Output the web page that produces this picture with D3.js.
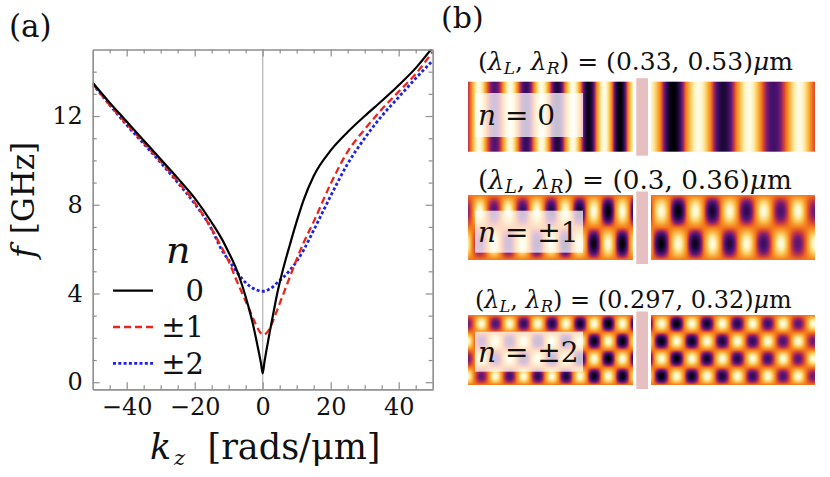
<!DOCTYPE html>
<html>
<head>
<meta charset="utf-8">
<script src="https://cdn.jsdelivr.net/npm/d3@7"></script>
<style>
body { margin: 0; background: #fff; }
text { font-family: "DejaVu Serif", serif; fill: #111; }
</style>
</head>
<body>
<div id="chart"></div>
<script>
// panel (a): dispersion f(kz) for the three modes
var kz = [-50, -45, -40, -35, -30, -25, -20, -15, -12, -10, -8, -6, -4, -3, -2, -1, -0.5, 0,
          0.5, 1, 2, 3, 4, 6, 8, 10, 12, 15, 20, 25, 30, 35, 40, 45, 50];
var fMode0 = [13.5, 12.6, 11.75, 10.9, 10.05, 9.2, 8.3, 7.2, 6.45, 5.85, 5.2, 4.35, 3.3, 2.7, 2.0, 1.25, 0.85, 0.4,
              0.9, 1.35, 2.2, 3.0, 3.8, 5.1, 6.2, 7.25, 8.2, 9.3, 10.45, 11.28, 12.0, 12.68, 13.39, 14.16, 15.1];
var fMode1 = [13.45, 12.5, 11.65, 10.8, 9.95, 9.05, 8.1, 6.9, 6.05, 5.45, 4.7, 4.0, 3.3, 2.95, 2.6, 2.3, 2.2, 2.15,
              2.15, 2.2, 2.4, 2.75, 3.15, 3.95, 4.75, 5.55, 6.28, 7.24, 8.95, 10.4, 11.4, 12.3, 13.1, 13.9, 14.9];
var fMode2 = [13.45, 12.5, 11.6, 10.75, 9.9, 9.0, 8.05, 6.9, 5.95, 5.5, 5.05, 4.65, 4.35, 4.25, 4.17, 4.12, 4.1, 4.1,
              4.1, 4.12, 4.2, 4.3, 4.45, 4.72, 5.05, 5.45, 5.95, 6.85, 8.4, 9.85, 11.0, 12.0, 12.85, 13.7, 14.5];
var legendLabels = ['0', '\u00b11', '\u00b12'];
var xTicks = [-40, -20, 0, 20, 40];
var yTicks = [0, 4, 8, 12];

// panel (b): mode patterns, wavelengths in um
var modeN = [0, 1, 2];
var modeLabels = ['0', '\u00b11', '\u00b12'];
var lambdaL = [0.33, 0.3, 0.297];
var lambdaR = [0.53, 0.36, 0.32];
var lambdaText = [['0.33', '0.53'], ['0.3', '0.36'], ['0.297', '0.32']];
// position (um from the junction) of a dark stripe / top-row dark spot
var darkL = [-0.232, -0.358, -0.355];
var darkR = [0.33, 0.382, 0.365];

var
W = 830,
H = 477;
var svg = d3
	.select('#chart')
	.append('svg')
	.attr('width', W)
	.attr('height', H)
	;

// ---------- panel (a) ----------
var
P_LEFT = 92.7, P_RIGHT = 432.7,
P_TOP = 49.5, P_BOTTOM = 389.3,
FRAME = '#8e8e8e';

var x = d3.scaleLinear().domain([-50, 50]).range([P_LEFT, P_RIGHT]);
var y = d3.scaleLinear().domain([-0.32, 15]).range([P_BOTTOM, P_TOP]);

svg.append('clipPath')
	.attr('id', 'plotClip')
	.append('rect')
	.attr('x', P_LEFT)
	.attr('y', P_TOP)
	.attr('width', P_RIGHT - P_LEFT)
	.attr('height', P_BOTTOM - P_TOP);

// line at kz = 0
svg.append('line')
	.attr('x1', x(0)).attr('x2', x(0))
	.attr('y1', P_TOP).attr('y2', P_BOTTOM)
	.attr('stroke', '#b8b8b8')
	.attr('stroke-width', 1.3);

var series = [
	{ f: fMode0, color: '#000000', dash: null, width: 2.2 },
	{ f: fMode1, color: '#e8261c', dash: '7,4', width: 2.3 },
	{ f: fMode2, color: '#1f22e6', dash: '3,2.3', width: 2.8 }
];

var line = d3.line()
	.x(function(d, i) { return x(kz[i]); })
	.y(function(d) { return y(d); })
	.curve(d3.curveMonotoneX);

svg.append('g')
	.attr('clip-path', 'url(#plotClip)')
	.selectAll('path')
	.data(series.slice().reverse())
	.enter()
	.append('path')
	.attr('d', function(d) { return line(d.f); })
	.attr('fill', 'none')
	.attr('stroke', function(d) { return d.color; })
	.attr('stroke-width', function(d) { return d.width; })
	.attr('stroke-dasharray', function(d) { return d.dash; })
	;

// frame ticks, pointing inwards
var xMinor = d3.range(-45, 50, 5).filter(function(v) { return xTicks.indexOf(v) < 0; });
var yMinor = d3.range(0, 15, 1).filter(function(v) { return yTicks.indexOf(v) < 0; });

function styleAxis(g) {
	g.selectAll('path, line').attr('stroke', FRAME).attr('stroke-width', 1.2);
	g.selectAll('text')
		.style('font-family', '"DejaVu Serif", serif')
		.style('font-size', '24px')
		.attr('fill', '#111');
}

svg.append('g').attr('transform', 'translate(0,' + P_BOTTOM + ')')
	.call(d3.axisBottom(x).tickValues(xTicks).tickSize(-7).tickSizeOuter(0).tickPadding(9))
	.call(styleAxis);
svg.append('g').attr('transform', 'translate(0,' + P_BOTTOM + ')')
	.call(d3.axisBottom(x).tickValues(xMinor).tickSize(-4).tickSizeOuter(0).tickFormat(''))
	.call(styleAxis);
svg.append('g').attr('transform', 'translate(0,' + P_TOP + ')')
	.call(d3.axisTop(x).tickValues(xTicks).tickSize(-7).tickSizeOuter(0).tickFormat(''))
	.call(styleAxis);
svg.append('g').attr('transform', 'translate(0,' + P_TOP + ')')
	.call(d3.axisTop(x).tickValues(xMinor).tickSize(-4).tickSizeOuter(0).tickFormat(''))
	.call(styleAxis);
svg.append('g').attr('transform', 'translate(' + P_LEFT + ',0)')
	.call(d3.axisLeft(y).tickValues(yTicks).tickSize(-7).tickSizeOuter(0).tickPadding(10))
	.call(styleAxis);
svg.append('g').attr('transform', 'translate(' + P_LEFT + ',0)')
	.call(d3.axisLeft(y).tickValues(yMinor).tickSize(-4).tickSizeOuter(0).tickFormat(''))
	.call(styleAxis);
svg.append('g').attr('transform', 'translate(' + P_RIGHT + ',0)')
	.call(d3.axisRight(y).tickValues(yTicks).tickSize(-7).tickSizeOuter(0).tickFormat(''))
	.call(styleAxis);
svg.append('g').attr('transform', 'translate(' + P_RIGHT + ',0)')
	.call(d3.axisRight(y).tickValues(yMinor).tickSize(-4).tickSizeOuter(0).tickFormat(''))
	.call(styleAxis);

// axis titles
svg.append('text')
	.attr('transform', 'translate(34,252) rotate(-90)')
	.attr('text-anchor', 'middle')
	.style('font-size', '32px')
	.style('font-style', 'italic')
	.text('f');
svg.append('text')
	.attr('transform', 'translate(34,188) rotate(-90)')
	.attr('text-anchor', 'middle')
	.style('font-size', '31px')
	.text('[GHz]');

svg.append('text')
	.attr('x', 150).attr('y', 459)
	.style('font-size', '35px')
	.style('font-style', 'italic')
	.text('k');
svg.append('text')
	.attr('x', 174).attr('y', 465)
	.style('font-size', '21px')
	.style('font-style', 'italic')
	.text('z');
svg.append('text')
	.attr('x', 294).attr('y', 459)
	.attr('text-anchor', 'middle')
	.style('font-size', '35px')
	.text('[rads/\u03bcm]');

// legend
var
LEG_X = 113, LEG_LEN = 40,
LEG_Y = 290.7, LEG_STEP = 36.3;
svg.append('text')
	.attr('x', 166).attr('y', 263)
	.style('font-size', '38px')
	.style('font-style', 'italic')
	.text('n');
var legend = svg.append('g')
	.selectAll('g')
	.data(series)
	.enter()
	.append('g')
	.attr('transform', function(d, i) { return 'translate(' + LEG_X + ',' + (LEG_Y + i * LEG_STEP) + ')'; })
	;
legend.append('line')
	.attr('x1', 0).attr('x2', LEG_LEN)
	.attr('stroke', function(d) { return d.color; })
	.attr('stroke-width', function(d) { return d.width; })
	.attr('stroke-dasharray', function(d) { return d.dash; });
legend.append('text')
	.attr('x', 91).attr('dy', '0.36em')
	.attr('text-anchor', 'end')
	.style('font-size', '29px')
	.text(function(d, i) { return legendLabels[i]; });

svg.append('text')
	.attr('x', 9).attr('y', 37)
	.style('font-size', '31px')
	.text('(a)');

// ---------- panel (b) ----------
svg.append('text')
	.attr('x', 441).attr('y', 28)
	.style('font-size', '30px')
	.text('(b)');

var
IMG_X0 = 468, IMG_X1 = 815,
JUNCTION = 642,
PX_PER_UM = 95,
GAP_UM = 0.097;
var imgTop = [81.7, 195, 315];
var imgH = [70, 65, 70];
var titleX = [478, 478, 475];
var titleW = [315, 314, 317];
var titleY = [70, 189, 308];
var boxY = [93, 210.7, 331.7];
var boxH = [44, 42, 40];

var xMu = d3.scaleLinear()
	.domain([(IMG_X0 - JUNCTION) / PX_PER_UM, (IMG_X1 - JUNCTION) / PX_PER_UM])
	.range([IMG_X0, IMG_X1]);

// colour map, field value -1..1
var fieldColor = d3.scaleLinear()
	.domain([-1, -0.8, -0.6, -0.4, -0.2, 0, 0.3, 0.6, 0.85, 1])
	.range(['#000004', '#1e0838', '#42106a', '#7a1d72', '#cf3d3c', '#f4791c', '#f9a535', '#fcd069', '#feefb0', '#fffbe4'])
	.clamp(true);
var LUT = d3.range(512).map(function(i) { return d3.rgb(fieldColor(-1 + 2 * i / 511)); });

function fieldImage(i) {
	var SC = 2;
	var wPx = Math.round((IMG_X1 - IMG_X0) * SC), hPx = Math.round(imgH[i] * SC);
	var canvas = document.createElement('canvas');
	canvas.width = wPx;
	canvas.height = hPx;
	var ctx = canvas.getContext('2d');
	var img = ctx.createImageData(wPx, hPx);
	for (var py = 0; py < hPx; py++) {
		var yy = (py + 0.5) / hPx;
		var rowF = modeN[i] === 0 ? 1 : Math.sin(2 * Math.PI * modeN[i] * yy);
		for (var px = 0; px < wPx; px++) {
			var um = xMu.invert(IMG_X0 + (px + 0.5) / SC);
			var k = (py * wPx + px) * 4;
			if (Math.abs(um) < GAP_UM) { img.data[k + 3] = 0; continue; }
			var lam = um < 0 ? lambdaL[i] : lambdaR[i];
			var xd = um < 0 ? darkL[i] : darkR[i];
			var v = -Math.cos(2 * Math.PI * (um - xd) / lam) * rowF;
			// dark extrema fade away from the junction
			if (v < 0) v *= Math.max(0.35, Math.min(1, 1.13 - 0.38 * Math.abs(um)));
			var c = LUT[Math.round((v + 1) / 2 * 511)];
			img.data[k] = c.r; img.data[k + 1] = c.g; img.data[k + 2] = c.b; img.data[k + 3] = 255;
		}
	}
	ctx.putImageData(img, 0, 0);
	return canvas.toDataURL();
}

var rows = svg.append('g')
	.selectAll('g')
	.data(modeN)
	.enter()
	.append('g')
	;

rows.append('image')
	.attr('href', function(d, i) { return fieldImage(i); })
	.attr('x', IMG_X0)
	.attr('y', function(d, i) { return imgTop[i]; })
	.attr('width', IMG_X1 - IMG_X0)
	.attr('height', function(d, i) { return imgH[i]; })
	.attr('preserveAspectRatio', 'none');

// junction marker
rows.append('rect')
	.attr('x', xMu(-0.06))
	.attr('width', xMu(0.063) - xMu(-0.06))
	.attr('y', function(d, i) { return imgTop[i] - 3.5; })
	.attr('height', function(d, i) { return imgH[i] + 7.5; })
	.attr('fill', '#e6bfc1');

rows.append('rect')
	.attr('x', 475)
	.attr('width', 108)
	.attr('y', function(d, i) { return boxY[i]; })
	.attr('height', function(d, i) { return boxH[i]; })
	.attr('fill', '#fff')
	.attr('fill-opacity', 0.74);

var lab = rows.append('text')
	.attr('x', 478)
	.attr('y', function(d, i) { return boxY[i] + boxH[i] / 2; })
	.attr('dy', '0.36em')
	.style('font-size', '28px');
lab.append('tspan').style('font-style', 'italic').text('n');
lab.append('tspan').text(function(d, i) { return ' = ' + modeLabels[i]; });

var title = rows.append('text')
	.attr('x', function(d, i) { return titleX[i]; })
	.attr('y', function(d, i) { return titleY[i]; })
	.style('font-size', '25px');
title.append('tspan').text('(');
title.append('tspan').style('font-style', 'italic').text('\u03bb');
title.append('tspan').attr('dy', '0.24em').style('font-size', '0.68em').style('font-style', 'italic').text('L');
title.append('tspan').attr('dy', '-0.163em').text(', ');
title.append('tspan').style('font-style', 'italic').text('\u03bb');
title.append('tspan').attr('dy', '0.24em').style('font-size', '0.68em').style('font-style', 'italic').text('R');
title.append('tspan').attr('dy', '-0.163em')
	.text(function(d, i) { return ') = (' + lambdaText[i][0] + ', ' + lambdaText[i][1] + ')'; });
title.append('tspan').style('font-style', 'italic').text('\u03bc');
title.append('tspan').text('m');
// fit each title to its width in the figure by font size
title.each(function(d, i) {
	var len = this.getComputedTextLength();
	d3.select(this).style('font-size', (25 * titleW[i] / len).toFixed(2) + 'px');
});
</script>
</body>
</html>
